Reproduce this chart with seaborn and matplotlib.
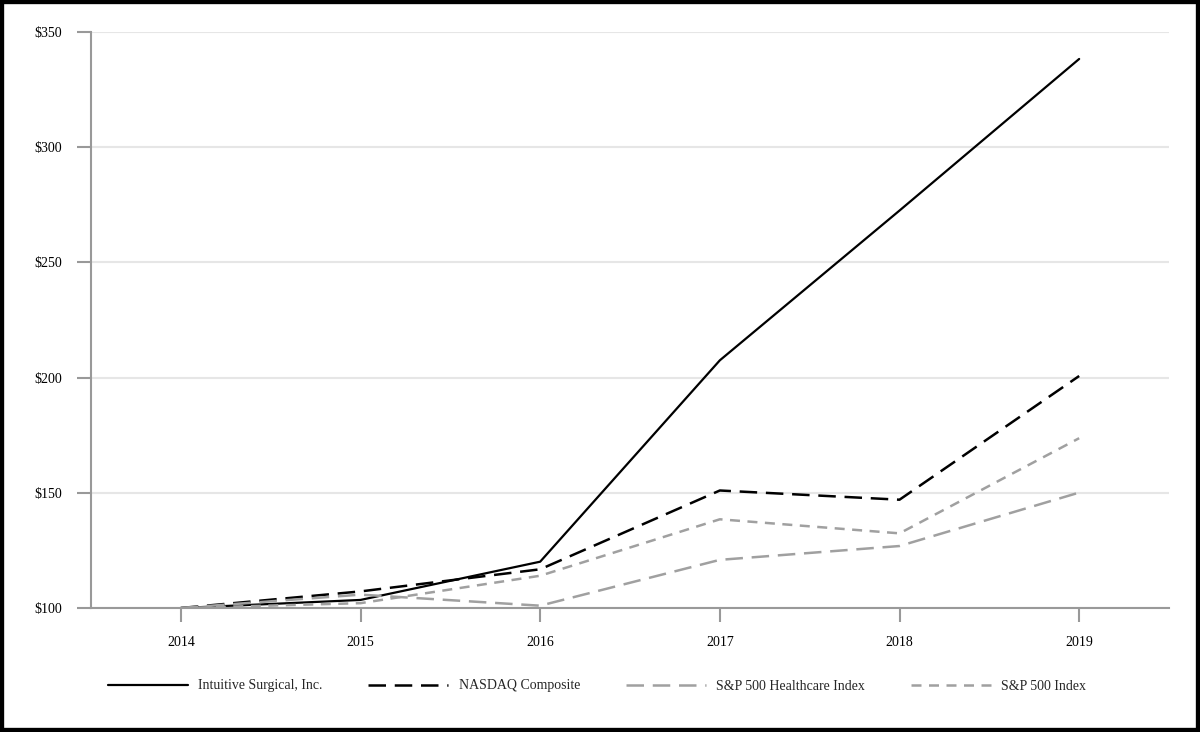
import matplotlib
matplotlib.use("Agg")
import matplotlib.pyplot as plt
import seaborn as sns
import pandas as pd
from matplotlib.patches import Rectangle

years = [2014, 2015, 2016, 2017, 2018, 2019]
intuitive = [100, 103.5, 120.1, 207.5, 272.5, 338.3]
nasdaq = [100, 107.2, 116.8, 151.0, 147.0, 200.7]
healthcare = [100, 105.8, 101.0, 120.9, 126.9, 150.1]
sp500 = [100, 102.1, 114.0, 138.5, 132.4, 173.7]
y_ticks = [100, 150, 200, 250, 300, 350]

sns.set_theme(style="white")
plt.rcParams['font.family'] = ['Liberation Serif', 'DejaVu Serif']

fig = plt.figure(figsize=(12, 7.32), dpi=100)
ax = fig.add_axes([91/1200, 1-608/732, (1169-91)/1200, (608-32)/732])

series = [
    ("Intuitive Surgical, Inc.", intuitive, "#000000", None, 1.6),
    ("NASDAQ Composite", nasdaq, "#000000", (7, 3.5), 1.8),
    ("S&P 500 Healthcare Index", healthcare, "#a0a0a0", (7, 3.5), 1.8),
    ("S&P 500 Index", sp500, "#a0a0a0", (4, 3), 1.8),
]
for name, vals, col, dash, lw in series:
    df = pd.DataFrame({"year": years, "value": vals})
    sns.lineplot(data=df, x="year", y="value", ax=ax, color=col, lw=lw, label=name)
    if dash is not None:
        ax.lines[-1].set_dashes(dash)

ax.set_xlim(2013.5, 2019.5)
ax.set_ylim(100, 350)
ax.set_xticks(years)
ax.set_xticklabels([str(y) for y in years])
ax.set_yticks(y_ticks)
ax.set_yticklabels([f"${v}" for v in y_ticks])
ax.set_xlabel("")
ax.set_ylabel("")
ax.yaxis.grid(True, color="#e6e6e6", lw=1.5)
ax.xaxis.grid(False)
for s in ["top", "right"]:
    ax.spines[s].set_visible(False)
for s in ["left", "bottom"]:
    ax.spines[s].set_color("#999999")
    ax.spines[s].set_linewidth(1.5)
ax.tick_params(axis="both", colors="#999999", length=10, width=1.5, direction="out",
               labelcolor="black", labelsize=10)
ax.tick_params(axis="x", pad=10)
ax.tick_params(axis="y", pad=11)
ax.yaxis.set_ticks_position("left")
ax.xaxis.set_ticks_position("bottom")

ax.get_legend().remove()
handles, labels = ax.get_legend_handles_labels()
fig.legend(handles, labels, loc="center", bbox_to_anchor=(597/1200, 1-686/732), ncol=4,
           frameon=False, handlelength=5.75, columnspacing=3.3, handletextpad=0.75,
           fontsize=10)

fig.patches.append(Rectangle((0, 0), 1, 1, transform=fig.transFigure, fill=False,
                             edgecolor="black", lw=6, zorder=10))
fig.savefig("out.png", dpi=100)
